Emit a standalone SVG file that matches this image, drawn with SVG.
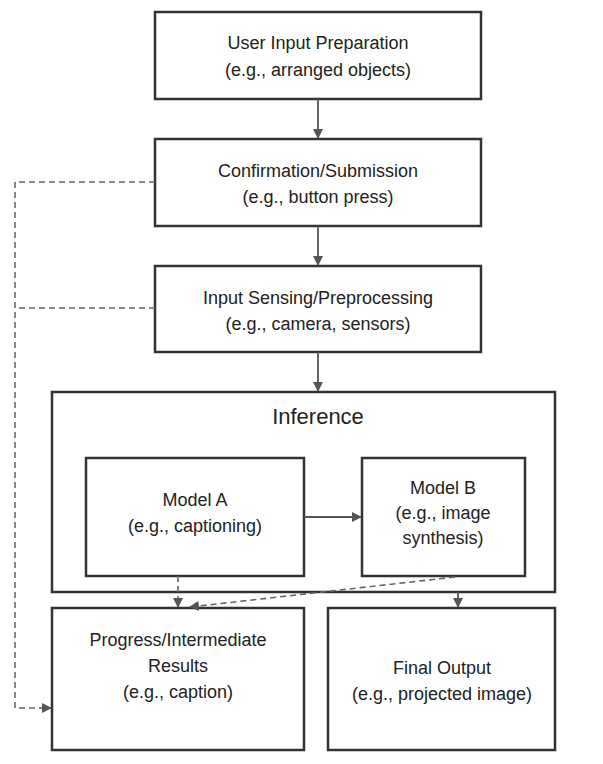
<svg xmlns="http://www.w3.org/2000/svg" width="603" height="764" viewBox="0 0 603 764">
<style>
.b{fill:#fff;stroke:#333;stroke-width:2.5}
.t{font-family:"Liberation Sans",Arial,sans-serif;font-size:18px;fill:#222;text-anchor:middle}
.c{stroke:#555;stroke-width:1.8;fill:none}
.d{stroke:#666;stroke-width:1.6;fill:none;stroke-dasharray:6,4}
</style>
<defs>
<marker id="a" markerWidth="10" markerHeight="10" refX="9" refY="5" orient="auto" markerUnits="userSpaceOnUse"><path d="M0,0L10,5L0,10z" fill="#555"/></marker>
</defs>
<rect width="603" height="764" fill="#fff"/>
<g id="n1"><rect class="b" x="155" y="12" width="326" height="87"/><text class="t" x="318" y="49">User Input Preparation</text><text class="t" x="318" y="76">(e.g., arranged objects)</text></g>
<g id="n2"><rect class="b" x="155" y="139" width="326" height="87"/><text class="t" x="318" y="177">Confirmation/Submission</text><text class="t" x="318" y="203">(e.g., button press)</text></g>
<g id="n3"><rect class="b" x="155" y="266" width="326" height="86"/><text class="t" x="318" y="304">Input Sensing/Preprocessing</text><text class="t" x="318" y="330">(e.g., camera, sensors)</text></g>
<g id="inference"><rect class="b" x="52" y="392" width="503" height="200"/><text class="t" x="318" y="424" style="font-size:22px">Inference</text></g>
<g id="modelA"><rect class="b" x="86" y="458" width="218" height="118"/><text class="t" x="195" y="506">Model A</text><text class="t" x="195" y="532">(e.g., captioning)</text></g>
<g id="modelB"><rect class="b" x="362" y="458" width="163" height="118"/><text class="t" x="443" y="494">Model B</text><text class="t" x="443" y="519">(e.g., image</text><text class="t" x="443" y="544">synthesis)</text></g>
<g id="progress"><rect class="b" x="52" y="608" width="252" height="142"/><text class="t" x="178" y="646">Progress/Intermediate</text><text class="t" x="178" y="672">Results</text><text class="t" x="178" y="698">(e.g., caption)</text></g>
<g id="final"><rect class="b" x="328" y="608" width="227" height="142"/><text class="t" x="442" y="674">Final Output</text><text class="t" x="442" y="700">(e.g., projected image)</text></g>
<g id="connectors">
<line class="c" x1="318" y1="99" x2="318" y2="138" marker-end="url(#a)"/>
<line class="c" x1="318" y1="226" x2="318" y2="265" marker-end="url(#a)"/>
<line class="c" x1="318" y1="352" x2="318" y2="391" marker-end="url(#a)"/>
<line class="c" x1="304" y1="517" x2="361" y2="517" marker-end="url(#a)"/>
<line class="c" x1="458" y1="592" x2="458" y2="607" marker-end="url(#a)"/>
<line class="d" x1="178" y1="576" x2="178" y2="607" marker-end="url(#a)"/>
<line class="d" x1="455" y1="577" x2="190" y2="607" marker-end="url(#a)"/>
<path class="d" d="M155,182H15V708H51" marker-end="url(#a)"/>
<path class="d" d="M155,308H15"/>
</g>
</svg>
